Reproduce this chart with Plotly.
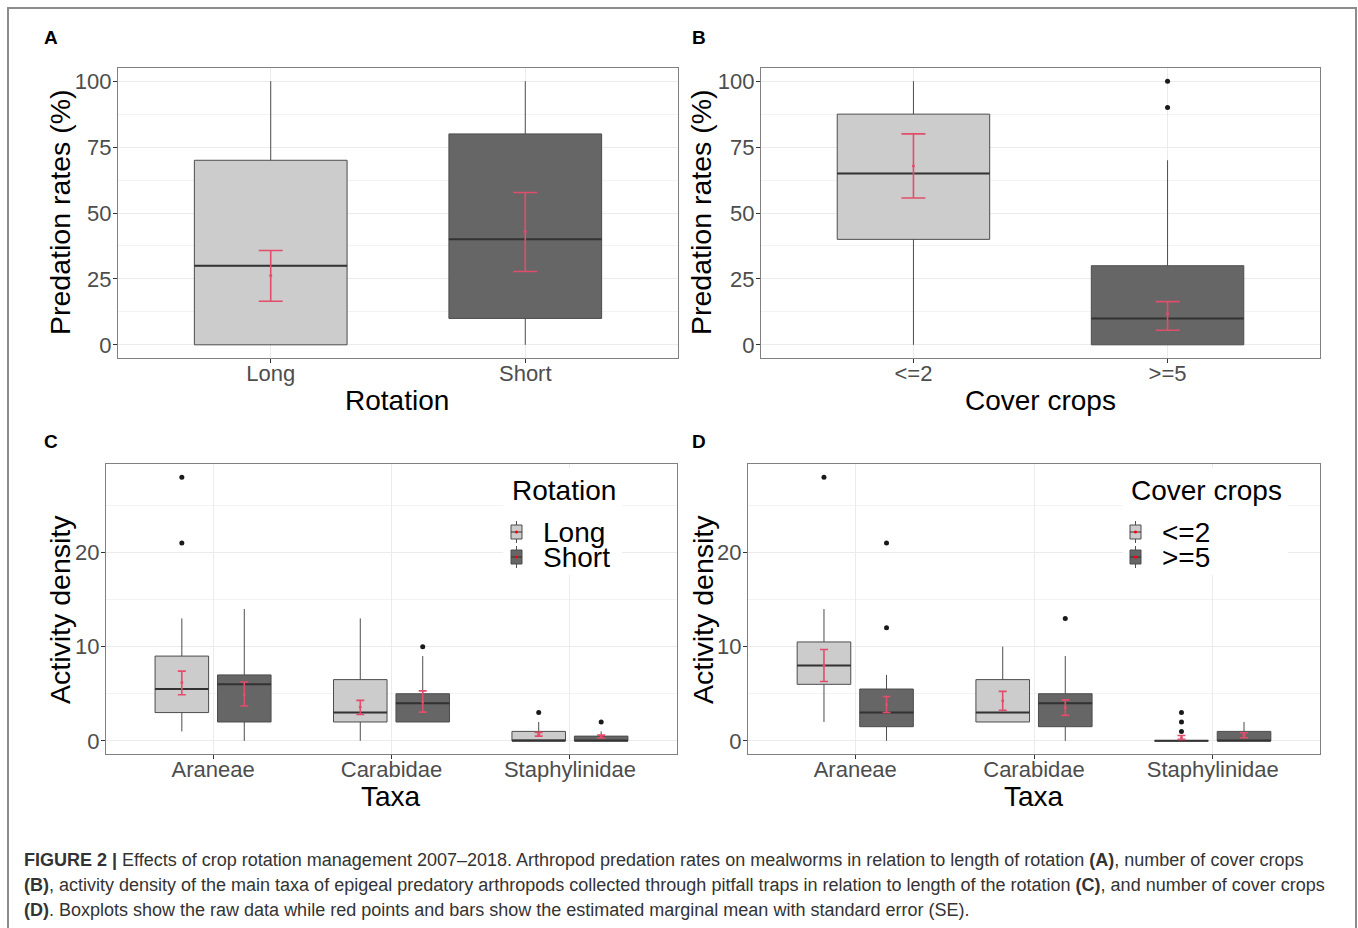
import plotly.graph_objects as go

# ---------------- data ----------------
rotation = ["Long", "Short"]
rot_q1 = [0, 10]
rot_median = [30, 40]
rot_q3 = [70, 80]
rot_low = [0, 0]
rot_high = [100, 100]
rot_mean = [26.3, 43.0]
rot_se_low = [16.5, 27.8]
rot_se_high = [35.8, 57.8]

cover = ["<=2", ">=5"]
cov_q1 = [40, 0]
cov_median = [65, 10]
cov_q3 = [87.5, 30]
cov_low = [0, 0]
cov_high = [100, 70]
cov_out_cat = [">=5", ">=5"]
cov_out_val = [90, 100]
cov_mean = [67.8, 11.8]
cov_se_low = [55.7, 5.5]
cov_se_high = [80.0, 16.4]

taxa = ["Araneae", "Carabidae", "Staphylinidae"]

# Panel C: rotation groups
c_long_q1 = [3, 2, 0]
c_long_median = [5.5, 3, 0]
c_long_q3 = [9, 6.5, 1]
c_long_low = [1, 0, 0]
c_long_high = [13, 13, 2]
c_long_out_taxa = ["Araneae", "Araneae", "Staphylinidae"]
c_long_out_val = [21, 28, 3]
c_long_mean = [6.2, 3.6, 0.7]
c_long_se_low = [4.9, 2.8, 0.5]
c_long_se_high = [7.4, 4.3, 0.9]

c_short_q1 = [2, 2, 0]
c_short_median = [6, 4, 0]
c_short_q3 = [7, 5, 0.5]
c_short_low = [0, 2, 0]
c_short_high = [14, 9, 1]
c_short_out_taxa = ["Carabidae", "Staphylinidae"]
c_short_out_val = [10, 2]
c_short_mean = [4.9, 4.15, 0.45]
c_short_se_low = [3.7, 3.05, 0.3]
c_short_se_high = [6.25, 5.3, 0.6]

# Panel D: cover crop groups
d_low_q1 = [6, 2, 0]
d_low_median = [8, 3, 0]
d_low_q3 = [10.5, 6.5, 0]
d_low_low = [2, 2, 0]
d_low_high = [14, 10, 0]
d_low_out_taxa = ["Araneae", "Staphylinidae", "Staphylinidae", "Staphylinidae"]
d_low_out_val = [28, 1, 2, 3]
d_low_mean = [8.0, 4.25, 0.35]
d_low_se_low = [6.3, 3.25, 0.15]
d_low_se_high = [9.7, 5.25, 0.57]

d_high_q1 = [1.5, 1.5, 0]
d_high_median = [3, 4, 0]
d_high_q3 = [5.5, 5, 1]
d_high_low = [0, 0, 0]
d_high_high = [7, 9, 2]
d_high_out_taxa = ["Araneae", "Araneae", "Carabidae"]
d_high_out_val = [12, 21, 13]
d_high_mean = [3.85, 3.55, 0.6]
d_high_se_low = [3.0, 2.7, 0.32]
d_high_se_high = [4.7, 4.35, 0.85]

pred_ticks = [0, 25, 50, 75, 100]
pred_minor = [12.5, 37.5, 62.5, 87.5]
dens_ticks = [0, 10, 20]
dens_minor = [5, 15, 25]

# ---------------- styling ----------------
W, H = 1358, 928
FONT = "Liberation Sans, Arial, sans-serif"
LIGHT = "#CCCCCC"
DARK = "#666666"
BOXLINE = "#4D4D4D"
RED = "#E34D6B"
GRID = "#EBEBEB"
MINOR = "#F3F3F3"
FRAME = "#808080"


def px(x):
    return x / W


def py(y):
    return 1 - y / H


fig = go.Figure()


def add_group(n, cats, off, bw, q1, med, q3, lo, hi, fill,
              out_cats, out_vals, mean, se_lo, se_hi, capw):
    xa = "x" if n == 1 else f"x{n}"
    ya = "y" if n == 1 else f"y{n}"
    pos = [i + 1 + off for i in range(len(cats))]
    fig.add_trace(go.Box(
        x=pos, q1=q1, median=med, q3=q3, lowerfence=lo, upperfence=hi,
        width=bw, fillcolor=fill, line=dict(color=BOXLINE, width=1),
        whiskerwidth=0, boxpoints=False, xaxis=xa, yaxis=ya,
        showlegend=False, hoverinfo="skip"))
    mx, my = [], []
    for p, m in zip(pos, med):
        mx += [p - bw / 2, p + bw / 2, None]
        my += [m, m, None]
    fig.add_trace(go.Scatter(x=mx, y=my, mode="lines",
                             line=dict(color="#333333", width=2),
                             xaxis=xa, yaxis=ya, showlegend=False,
                             hoverinfo="skip"))
    if out_cats:
        ox = [cats.index(c) + 1 + off for c in out_cats]
        fig.add_trace(go.Scatter(x=ox, y=out_vals, mode="markers",
                                 marker=dict(color="#1A1A1A", size=5),
                                 xaxis=xa, yaxis=ya, showlegend=False,
                                 hoverinfo="skip"))
    fig.add_trace(go.Scatter(
        x=pos, y=mean, mode="markers",
        marker=dict(color=RED, size=3),
        error_y=dict(type="data", symmetric=False,
                     array=[h - m for h, m in zip(se_hi, mean)],
                     arrayminus=[m - l for m, l in zip(mean, se_lo)],
                     color=RED, thickness=1.6, width=capw),
        xaxis=xa, yaxis=ya, showlegend=False, hoverinfo="skip"))


# Panel A
add_group(1, rotation, 0, 0.6, [rot_q1[0]], [rot_median[0]], [rot_q3[0]],
          [rot_low[0]], [rot_high[0]], LIGHT, [], [], [rot_mean[0]],
          [rot_se_low[0]], [rot_se_high[0]], 12)
add_group(1, rotation[1:], 1, 0.6, [rot_q1[1]], [rot_median[1]], [rot_q3[1]],
          [rot_low[1]], [rot_high[1]], DARK, [], [], [rot_mean[1]],
          [rot_se_low[1]], [rot_se_high[1]], 12)
# Panel B
add_group(2, cover, 0, 0.6, [cov_q1[0]], [cov_median[0]], [cov_q3[0]],
          [cov_low[0]], [cov_high[0]], LIGHT, [], [], [cov_mean[0]],
          [cov_se_low[0]], [cov_se_high[0]], 12)
add_group(2, cover[1:], 1, 0.6, [cov_q1[1]], [cov_median[1]], [cov_q3[1]],
          [cov_low[1]], [cov_high[1]], DARK, cov_out_cat, cov_out_val,
          [cov_mean[1]], [cov_se_low[1]], [cov_se_high[1]], 12)
# Panel C
add_group(3, taxa, -0.175, 0.3, c_long_q1, c_long_median, c_long_q3,
          c_long_low, c_long_high, LIGHT, c_long_out_taxa, c_long_out_val,
          c_long_mean, c_long_se_low, c_long_se_high, 4)
add_group(3, taxa, 0.175, 0.3, c_short_q1, c_short_median, c_short_q3,
          c_short_low, c_short_high, DARK, c_short_out_taxa, c_short_out_val,
          c_short_mean, c_short_se_low, c_short_se_high, 4)
# Panel D
add_group(4, taxa, -0.175, 0.3, d_low_q1, d_low_median, d_low_q3,
          d_low_low, d_low_high, LIGHT, d_low_out_taxa, d_low_out_val,
          d_low_mean, d_low_se_low, d_low_se_high, 4)
add_group(4, taxa, 0.175, 0.3, d_high_q1, d_high_median, d_high_q3,
          d_high_low, d_high_high, DARK, d_high_out_taxa, d_high_out_val,
          d_high_mean, d_high_se_low, d_high_se_high, 4)

# ---------------- axes ----------------
panels = {
    1: dict(x=(118, 678), y=(68, 358), cats=rotation, yr=[-5, 105],
            yt=pred_ticks, ym=pred_minor, xr=[0.4, 2.6]),
    2: dict(x=(761, 1320), y=(68, 358), cats=cover, yr=[-5, 105],
            yt=pred_ticks, ym=pred_minor, xr=[0.4, 2.6]),
    3: dict(x=(106, 677), y=(464, 754), cats=taxa, yr=[-1.4, 29.4],
            yt=dens_ticks, ym=dens_minor, xr=[0.4, 3.6]),
    4: dict(x=(748, 1320), y=(464, 754), cats=taxa, yr=[-1.4, 29.4],
            yt=dens_ticks, ym=dens_minor, xr=[0.4, 3.6]),
}
for n, p in panels.items():
    xk = "xaxis" if n == 1 else f"xaxis{n}"
    yk = "yaxis" if n == 1 else f"yaxis{n}"
    anchor_y = "y" if n == 1 else f"y{n}"
    anchor_x = "x" if n == 1 else f"x{n}"
    fig.update_layout(**{
        xk: dict(domain=[px(p["x"][0]), px(p["x"][1])], range=p["xr"],
                 anchor=anchor_y, tickvals=list(range(1, len(p["cats"]) + 1)),
                 ticktext=p["cats"], showgrid=True, gridcolor=GRID,
                 gridwidth=1, zeroline=False, showline=True, mirror=True,
                 linecolor=FRAME, linewidth=1.3, ticks="outside", ticklen=4,
                 tickcolor="#333333", tickwidth=1, ticklabelstandoff=-9,
                 tickfont=dict(family=FONT, size=22, color="#4D4D4D")),
        yk: dict(domain=[py(p["y"][1]), py(p["y"][0])], range=p["yr"],
                 anchor=anchor_x, tickvals=p["yt"], showgrid=True,
                 gridcolor=GRID, gridwidth=1, zeroline=False,
                 minor=dict(tickvals=p["ym"], showgrid=True,
                            gridcolor=MINOR, gridwidth=0.8, ticks=""),
                 showline=True, mirror=True, linecolor=FRAME, linewidth=1.3,
                 ticks="outside", ticklen=4, tickcolor="#333333", tickwidth=1,
                 ticklabelstandoff=-3,
                 tickfont=dict(family=FONT, size=22, color="#4D4D4D")),
    })

# ---------------- annotations ----------------
ann = []


def text(x, y, s, size, color="#000000", xanchor="center", angle=0,
         yanchor="middle"):
    ann.append(dict(x=px(x), y=py(y), xref="paper", yref="paper", text=s,
                    showarrow=False, xanchor=xanchor, yanchor=yanchor,
                    textangle=angle,
                    font=dict(family=FONT, size=size, color=color)))


# panel letters
for s, x, y in [("A", 51, 38), ("B", 699, 38), ("C", 51, 441), ("D", 699, 441)]:
    text(x, y, f"<b>{s}</b>", 19)

# axis titles
text(60, 212, "Predation rates (%)", 28.5, angle=-90)
text(701, 212, "Predation rates (%)", 28.5, angle=-90)
text(60, 610, "Activity density", 28.5, angle=-90)
text(703, 610, "Activity density", 28.5, angle=-90)
text(397, 400, "Rotation", 28)
text(1040, 400, "Cover crops", 28)
text(391, 796, "Taxa", 28)
text(1034, 796, "Taxa", 28)

# legends (manual, ggplot style)
shapes = []


def legend(x0, x1, y0, y1, key_x, label_x, title, labels):
    shapes.append(dict(type="rect", xref="paper", yref="paper",
                       x0=px(x0), x1=px(x1), y0=py(y1), y1=py(y0),
                       fillcolor="white", line=dict(width=0), layer="above"))
    text(key_x - 1, 490, title, 28, xanchor="left")
    for lab, fill, yc in zip(labels, [LIGHT, DARK], [532, 557]):
        kx0, kx1 = key_x, key_x + 11
        kc = (kx0 + kx1) / 2
        shapes.append(dict(type="line", xref="paper", yref="paper",
                           x0=px(kc), x1=px(kc), y0=py(yc + 11), y1=py(yc - 11),
                           line=dict(color=BOXLINE, width=1), layer="above"))
        shapes.append(dict(type="rect", xref="paper", yref="paper",
                           x0=px(kx0), x1=px(kx1), y0=py(yc + 7), y1=py(yc - 7),
                           fillcolor=fill, line=dict(color=BOXLINE, width=1),
                           layer="above"))
        shapes.append(dict(type="line", xref="paper", yref="paper",
                           x0=px(kx0), x1=px(kx1), y0=py(yc), y1=py(yc),
                           line=dict(color="#333333", width=1), layer="above"))
        shapes.append(dict(type="circle", xref="paper", yref="paper",
                           x0=px(kc - 1.5), x1=px(kc + 1.5),
                           y0=py(yc + 1.5), y1=py(yc - 1.5),
                           fillcolor="#FF0000", line=dict(width=0),
                           layer="above"))
        text(label_x, yc, lab, 28, xanchor="left")


legend(503, 622, 468, 575, 511, 541, "Rotation", rotation)
legend(1123, 1288, 468, 575, 1130, 1160, "Cover crops", cover)

# caption
cap_lines = [
    "<b>FIGURE 2 |</b> Effects of crop rotation management 2007\u20132018. "
    "Arthropod predation rates on mealworms in relation to length of rotation "
    "<b>(A)</b>, number of cover crops",
    "<b>(B)</b>, activity density of the main taxa of epigeal predatory "
    "arthropods collected through pitfall traps in relation to length of the "
    "rotation <b>(C)</b>, and number of cover crops",
    "<b>(D)</b>. Boxplots show the raw data while red points and bars show the "
    "estimated marginal mean with standard error (SE).",
]
for s, y in zip(cap_lines, [860, 885, 910]):
    text(22, y, s, 18, color="#333333", xanchor="left")

# outer frame
shapes.append(dict(type="rect", xref="paper", yref="paper",
                   x0=px(8), x1=px(1356), y0=-0.05, y1=py(8),
                   line=dict(color="#8C8C8C", width=2), layer="above"))

fig.update_layout(
    width=W, height=H, margin=dict(l=0, r=0, t=0, b=0),
    paper_bgcolor="white", plot_bgcolor="white",
    annotations=ann, shapes=shapes, showlegend=False,
    font=dict(family=FONT),
)

fig.write_html("out.html",
               config={"displayModeBar": False},
               post_script="document.body.style.margin='0px';"
                           "document.body.style.overflow='hidden';")
